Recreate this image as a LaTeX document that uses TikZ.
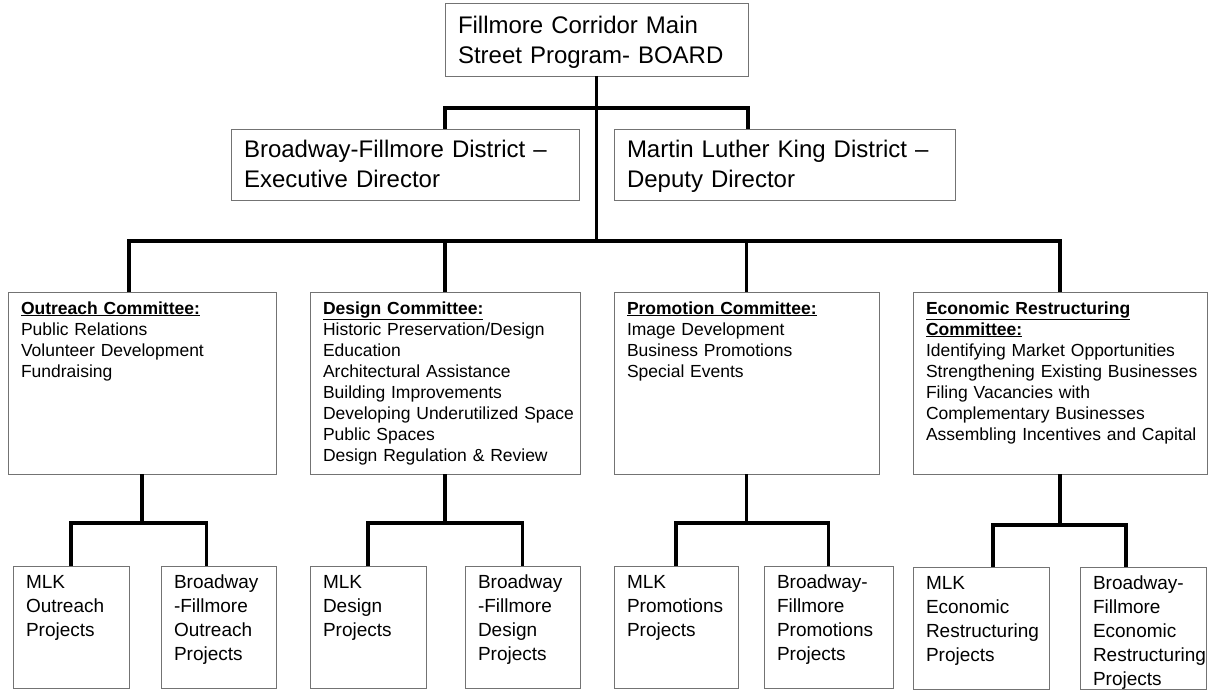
\documentclass[tikz,border=0pt]{standalone}
\usepackage{fontspec}
\setmainfont{Liberation Sans}
\usetikzlibrary{positioning, calc}
\hyphenpenalty=10000
\exhyphenpenalty=10000

\begin{document}
\begin{tikzpicture}[
  x=1pt, y=-1pt,
  box/.style={rectangle, draw=black!55, line width=0.8pt, fill=white, anchor=north west,
    inner xsep=13pt, inner ysep=0pt, outer sep=0pt, align=left},
  board/.style={box, font=\fontsize{24}{30}\selectfont, text height=31pt, text depth=42pt},
  district/.style={box, font=\fontsize{24}{29}\selectfont, text height=29pt, text depth=42pt},
  committee/.style={box, font=\fontsize{17.5}{21}\selectfont, text height=22pt, text depth=160pt},
  project/.style={box, font=\fontsize{19}{24}\selectfont, text height=22pt, text depth=100pt},
  conn/.style={line width=3.8pt, black}
]

\useasboundingbox[fill=white] (0,0) rectangle (1224,690);

\node (board) [board, text width=277pt] at (445,3) {Fillmore Corridor Main\\Street Program- BOARD};
\node (bfdist) [district, text width=322pt] at (231,129) {Broadway-Fillmore District –\\Executive Director};
\node (mlkdist) [district, text width=315pt] at (614,129) {Martin Luther King District –\\Deputy Director};

\node (outreach) [committee, text width=242pt] at (8,292) {\underline{\textbf{Outreach~Committee:}}\\Public~Relations\\Volunteer~Development\\Fundraising};
\node (design) [committee, text width=244pt] at (310,292) {\underline{\textbf{Design~Committee:}}\\Historic~Preservation/Design\\Education\\Architectural~Assistance\\Building~Improvements\\Developing~Underutilized~Space\\Public~Spaces\\Design~Regulation~\&~Review};
\node (promo) [committee, text width=239pt] at (614,292) {\underline{\textbf{Promotion~Committee:}}\\Image~Development\\Business~Promotions\\Special~Events};
\node (econ) [committee, text width=268pt] at (913,292) {\underline{\textbf{Economic~Restructuring}}\\\underline{\textbf{Committee:}}\\Identifying~Market~Opportunities\\Strengthening~Existing~Businesses\\Filing~Vacancies~with\\Complementary~Businesses\\Assembling~Incentives~and~Capital};

\node (mlko) [project, text width=90pt] at (13,566) {MLK\\Outreach\\Projects};
\node (bfo) [project, text width=89pt] at (161,566) {Broadway\\-Fillmore\\Outreach\\Projects};
\node (mlkd) [project, text width=90pt] at (310,566) {MLK\\Design\\Projects};
\node (bfd) [project, text width=89pt] at (465,566) {Broadway\\-Fillmore\\Design\\Projects};
\node (mlkp) [project, text width=98pt] at (614,566) {MLK\\Promotions\\Projects};
\node (bfp) [project, text width=103pt] at (764,566) {Broadway-\\Fillmore\\Promotions\\Projects};
\node (mlke) [project, text width=110pt] at (913,567) {MLK\\Economic\\Restructuring\\Projects};
\node (bfe) [project, text width=100pt] at (1080,567) {Broadway-\\Fillmore\\Economic\\Restructuring\\Projects};

\draw [conn] (board.south) -- ++(0,32) coordinate (topjoin);
\draw [conn] (bfdist.north -| board.west) |- (topjoin) -| (mlkdist.north -| board.east);
\draw [conn] (topjoin) -- ++(0,133) coordinate (midjoin);
\draw [conn] ([xshift=-13pt]outreach.north) |- (midjoin) -| (econ.north);
\draw [conn] (design.north) -- (design.north |- midjoin);
\draw [conn] (promo.north) -- (promo.north |- midjoin);

\draw [conn] (outreach.south) -- ++(0,49) coordinate (ojoin);
\draw [conn] (mlko.north) |- (ojoin) -| ([xshift=-12pt]bfo.north);
\draw [conn] (design.south) -- ++(0,49) coordinate (djoin);
\draw [conn] (mlkd.north) |- (djoin) -| (bfd.north);
\draw [conn] (promo.south) -- ++(0,49) coordinate (pjoin);
\draw [conn] (mlkp.north) |- (pjoin) -| (bfp.north);
\draw [conn] (econ.south) -- ++(0,51) coordinate (ejoin);
\draw [conn] ([xshift=12pt]mlke.north) |- (ejoin) -| ([xshift=-17pt]bfe.north);

\end{tikzpicture}
\end{document}
